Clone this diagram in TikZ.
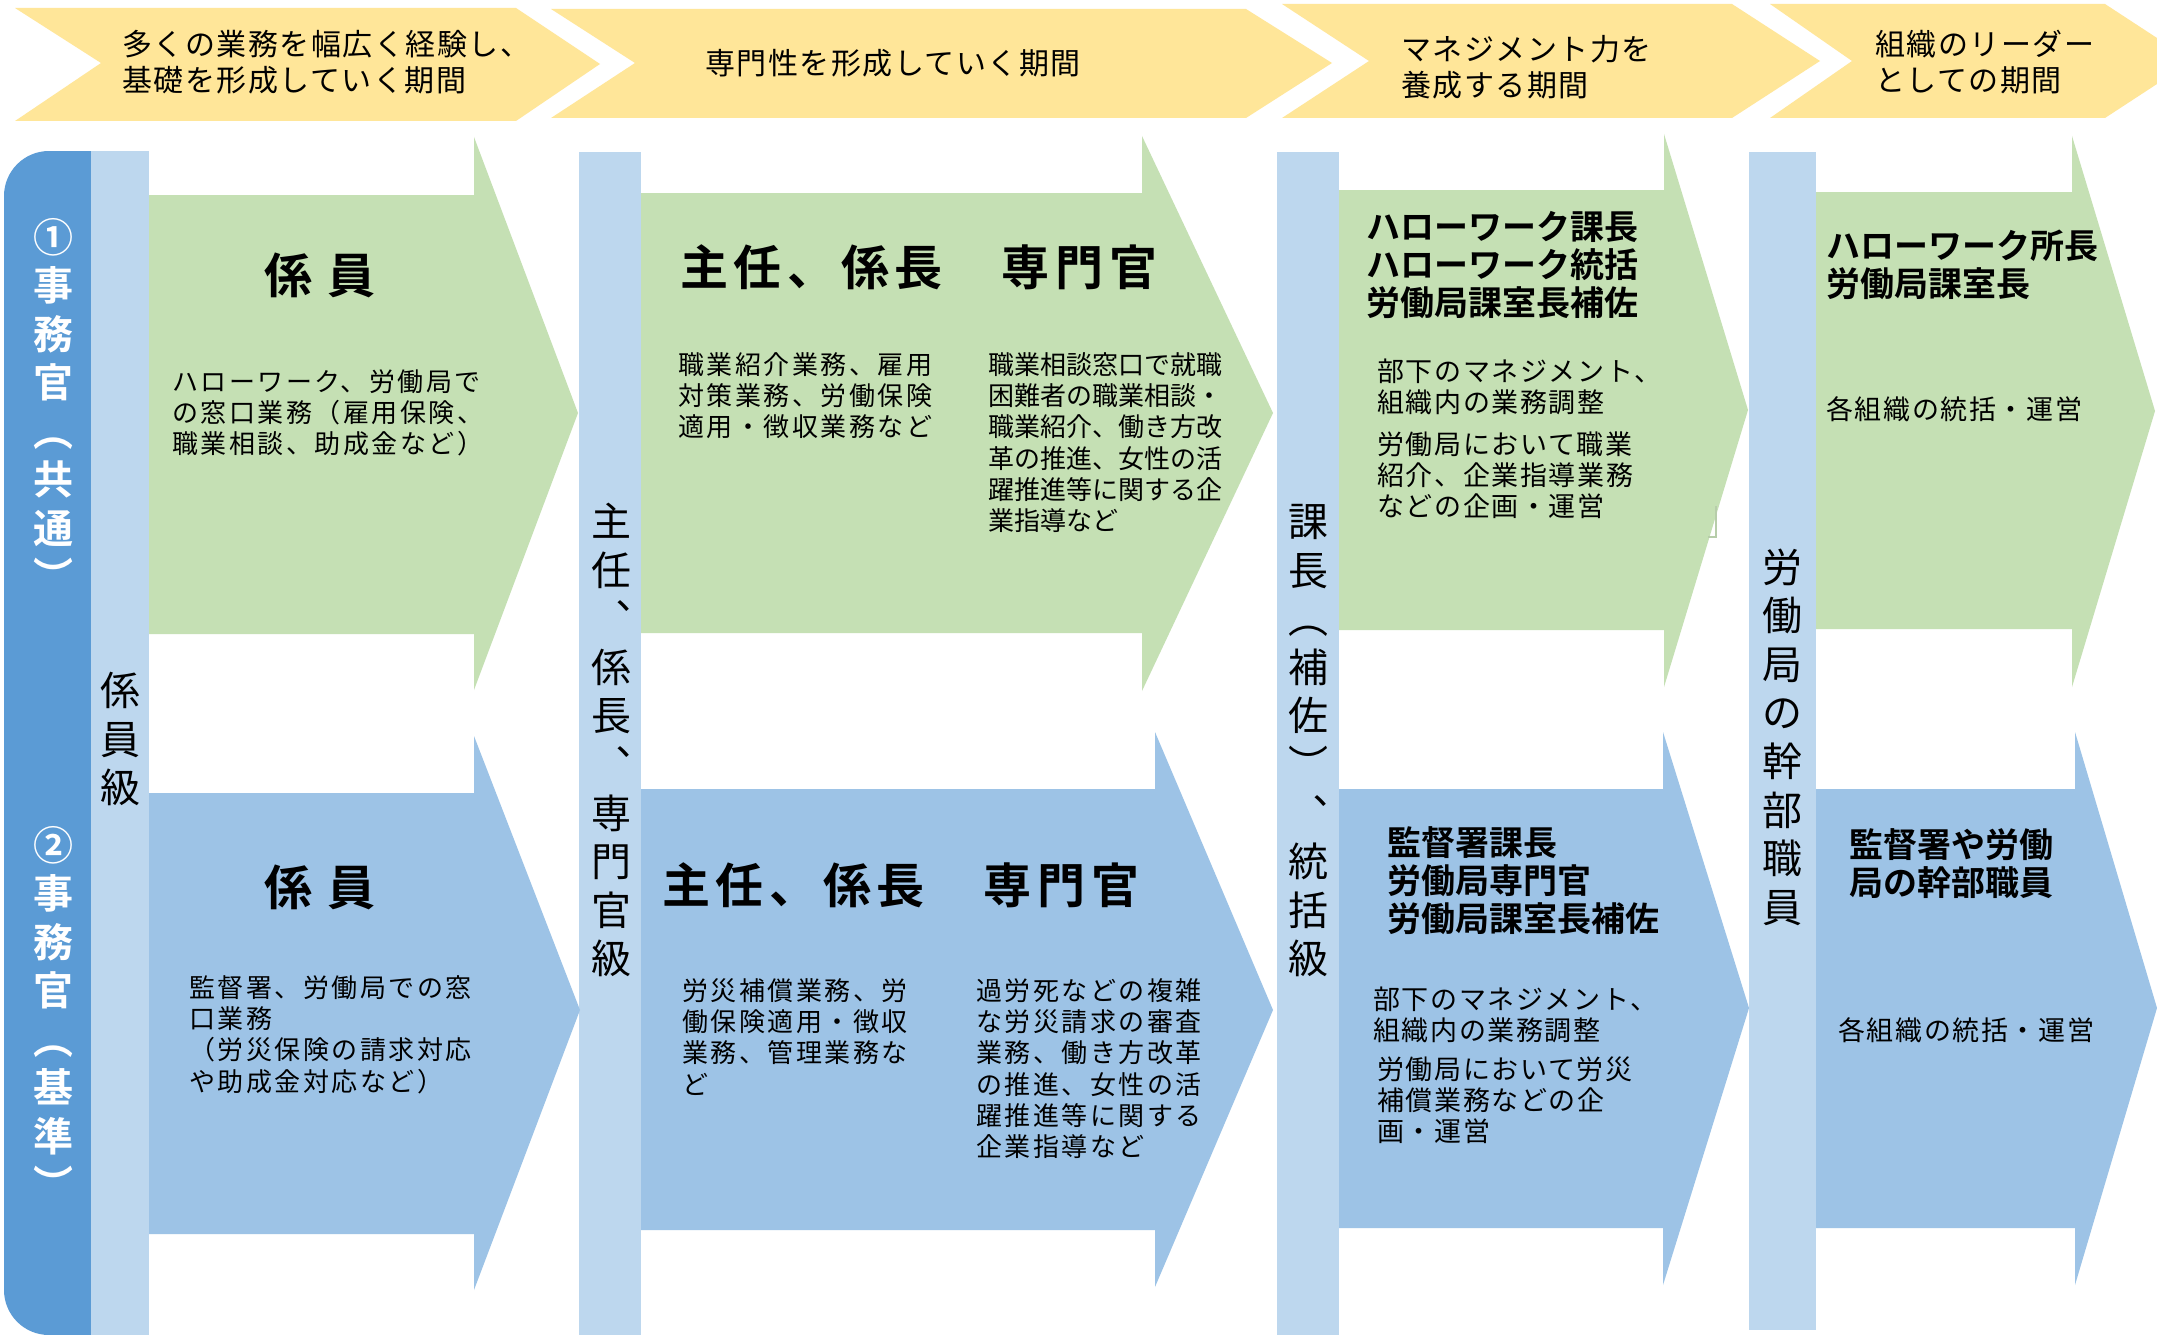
\documentclass[tikz,border=0pt]{standalone}
\usepackage{fontspec}
\newfontfamily\jp{Noto Sans CJK JP}
\newfontfamily\jpb{Noto Sans CJK JP Bold}
\newfontfamily\jpsp{Noto Sans CJK JP}[LetterSpace=9.6]
\newfontfamily\jpn{Noto Sans CJK JP}[LetterSpace=6]
\newfontfamily\jpban{Noto Sans CJK JP}[LetterSpace=5]
\newfontfamily\jpbt{Noto Sans CJK JP Bold}[LetterSpace=31]
\newfontfamily\jpbh{Noto Sans CJK JP Bold}[LetterSpace=11.7]
\definecolor{grn}{HTML}{C5E0B4}
\definecolor{blu}{HTML}{9DC3E6}
\definecolor{lbar}{HTML}{BDD7EE}
\definecolor{dbar}{HTML}{5B9BD5}
\definecolor{ban}{HTML}{FFE699}
\newcommand\vs{\vrule height .88em depth .12em width 0pt}
\newcommand\fl{\rule{0pt}{1em}}
\tikzset{
  bannerfill/.style={fill=ban},
  grnarrow/.style={fill=grn},
  bluarrow/.style={fill=blu},
  lbarfill/.style={fill=lbar},
  vlabel/.style={inner sep=0pt, align=center, font=\jp\fontsize{40}{48.6}\selectfont},
  vlabelw/.style={inner sep=0pt, align=center, text=white, font=\jpb\fontsize{40}{48.5}\selectfont},
  bantext/.style={inner sep=0pt, anchor=north west, align=left, font=\jpban\fontsize{30}{36}\selectfont},
  bodytxt/.style={inner sep=0pt, anchor=north west, align=left, font=\jpsp\fontsize{26}{31.3}\selectfont},
  bodyn/.style={inner sep=0pt, anchor=north west, align=left, font=\jpn\fontsize{27}{31.3}\selectfont},
  headtxt/.style={inner sep=0pt, anchor=north west, align=left, font=\jpb\fontsize{34}{38}\selectfont},
  ttl/.style={inner sep=0pt, anchor=base west, font=\jpbt\fontsize{48}{56}\selectfont},
  ttlb/.style={inner sep=0pt, anchor=base west, font=\jpbh\fontsize{48}{56}\selectfont},
}
\begin{document}
\begin{tikzpicture}[x=1pt,y=-1pt]
\fill[white] (0,0) rectangle (2157,1335);
\useasboundingbox (0,0) rectangle (2157,1335);
% banner
\fill[bannerfill] (15,8) -- (516,8) -- (600,64) -- (516,121) -- (15,121) -- (101,63) -- cycle;
\fill[bannerfill] (551,9) -- (1246,9) -- (1332,63) -- (1246,118) -- (551,118) -- (635,63) -- cycle;
\fill[bannerfill] (1282,4) -- (1732,4) -- (1820,61) -- (1732,118) -- (1282,118) -- (1369,61) -- cycle;
\fill[bannerfill] (1770,4) -- (2105,4) -- (2157,38) -- (2157,84) -- (2105,118) -- (1770,118) -- (1852,61) -- cycle;
\node[bantext] (h1) at (122,25) {\fl 多くの業務を幅広く経験し、\\基礎を形成していく期間};
\node[bantext, anchor=base west] (h2) at (705,75) {専門性を形成していく期間};
\node[bantext] (h3) at (1401,30) {\fl マネジメント力を\\養成する期間};
\node[bantext] (h4) at (1875,25) {\fl 組織のリーダー\\としての期間};
% bars
\fill[dbar, rounded corners=45pt] (4,151) rectangle (91,1335);
\fill[dbar] (50,151) rectangle (92,1335);
\fill[lbarfill] (91,151) rectangle (149,1335);
\fill[lbarfill] (579,152) rectangle (641,1335);
\fill[lbarfill] (1277,152) rectangle (1339,1335);
\fill[lbarfill] (1749,152) rectangle (1816,1330);
% row 1 arrows
\fill[grnarrow] (149,195) -- (474,195) -- (474,137) -- (578,413) -- (474,690) -- (474,634) -- (149,634) -- cycle;
\fill[grnarrow] (641,193) -- (1142,193) -- (1142,136) -- (1273,413) -- (1142,691) -- (1142,633) -- (641,633) -- cycle;
\fill[grnarrow] (1339,190) -- (1664,190) -- (1664,134) -- (1748,410) -- (1664,687) -- (1664,630) -- (1339,630) -- cycle;
\fill[grnarrow] (1816,192) -- (2072,192) -- (2072,136) -- (2155,411) -- (2072,687) -- (2072,629) -- (1816,629) -- cycle;
\draw[grn!80!gray, line width=1.2pt] (1716,506) -- (1716,537) -- (1708,537);
% row 2 arrows
\fill[bluarrow] (149,793) -- (474,793) -- (474,736) -- (580,1010) -- (474,1290) -- (474,1234) -- (149,1234) -- cycle;
\fill[bluarrow] (641,789) -- (1155,789) -- (1155,732) -- (1273,1010) -- (1155,1287) -- (1155,1230) -- (641,1230) -- cycle;
\fill[bluarrow] (1339,789) -- (1663,789) -- (1663,732) -- (1749,1008) -- (1663,1285) -- (1663,1228) -- (1339,1228) -- cycle;
\fill[bluarrow] (1816,789) -- (2075,789) -- (2075,732) -- (2157,1008) -- (2075,1285) -- (2075,1228) -- (1816,1228) -- cycle;
% vertical labels
\node[vlabelw] (v1) at (53,407) {\vs ①\\\vs 事\\\vs 務\\\vs 官\\\vs ︵\\\vs 共\\\vs 通\\\vs ︶};
\node[vlabelw] (v2) at (53,1015) {\vs ②\\\vs 事\\\vs 務\\\vs 官\\\vs ︵\\\vs 基\\\vs 準\\\vs ︶};
\node[vlabel] (c1) at (120,739) {\vs 係\\\vs 員\\\vs 級};
\node[vlabel] (c2) at (611,740) {\vs 主\\\vs 任\\\vs ︑\\\vs 係\\\vs 長\\\vs ︑\\\vs 専\\\vs 門\\\vs 官\\\vs 級};
\node[vlabel] (c3) at (1308,740) {\vs 課\\\vs 長\\\vs ︵\\\vs 補\\\vs 佐\\\vs ︶\\\vs ︑\\\vs 統\\\vs 括\\\vs 級};
\node[vlabel] (c4) at (1782,737) {\vs 労\\\vs 働\\\vs 局\\\vs の\\\vs 幹\\\vs 部\\\vs 職\\\vs 員};
% row 1 texts
\node[ttl] (g1t) at (264,293) {係員};
\node[bodytxt] (g1b) at (172,365) {\fl ハローワーク、労働局で\\の窓口業務（雇用保険、\\職業相談、助成金など）};
\node[ttlb] (g2t) at (680,285) {主任、係長　専門官};
\node[bodytxt] (g2a) at (678,348) {\fl 職業紹介業務、雇用\\対策業務、労働保険\\適用・徴収業務など};
\node[bodyn, font=\jp\fontsize{26}{31.3}\selectfont] (g2b) at (988,348) {\fl 職業相談窓口で就職\\困難者の職業相談・\\職業紹介、働き方改\\革の推進、女性の活\\躍推進等に関する企\\業指導など};
\node[headtxt] (g3h) at (1366,205) {\fl ハローワーク課長\\ハローワーク統括\\労働局課室長補佐};
\node[bodyn] (g3a) at (1377,354) {\fl 部下のマネジメント、\\組織内の業務調整};
\node[bodyn] (g3b) at (1377,427) {\fl 労働局において職業\\紹介、企業指導業務\\などの企画・運営};
\node[headtxt] (g4h) at (1826,224) {\fl ハローワーク所長\\労働局課室長};
\node[bodyn] (g4a) at (1826,392) {\fl 各組織の統括・運営};
% row 2 texts
\node[ttl] (b1t) at (264,905) {係員};
\node[bodytxt] (b1b) at (189,971) {\fl 監督署、労働局での窓\\口業務\\（労災保険の請求対応\\や助成金対応など）};
\node[ttlb] (b2t) at (662,903) {主任、係長　専門官};
\node[bodytxt] (b2a) at (682,974) {\fl 労災補償業務、労\\働保険適用・徴収\\業務、管理業務な\\ど};
\node[bodytxt] (b2b) at (976,974) {\fl 過労死などの複雑\\な労災請求の審査\\業務、働き方改革\\の推進、女性の活\\躍推進等に関する\\企業指導など};
\node[headtxt] (b3h) at (1387,821) {\fl 監督署課長\\労働局専門官\\労働局課室長補佐};
\node[bodyn] (b3a) at (1373,982) {\fl 部下のマネジメント、\\組織内の業務調整};
\node[bodyn] (b3b) at (1377,1052) {\fl 労働局において労災\\補償業務などの企\\画・運営};
\node[headtxt] (b4h) at (1849,823) {\fl 監督署や労働\\局の幹部職員};
\node[bodyn] (b4a) at (1838,1013) {\fl 各組織の統括・運営};
\end{tikzpicture}
\end{document}
